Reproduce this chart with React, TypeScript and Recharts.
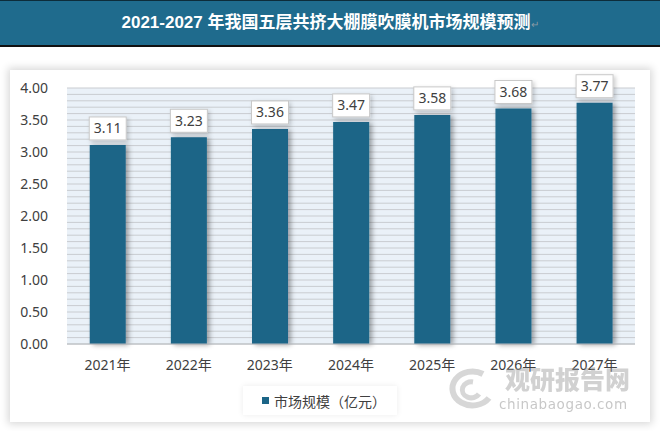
import React from 'react';
import { BarChart, Bar, XAxis, YAxis, CartesianGrid, LabelList } from 'recharts';

const years = ['2021年', '2022年', '2023年', '2024年', '2025年', '2026年', '2027年'];
const marketSize = [3.11, 3.23, 3.36, 3.47, 3.58, 3.68, 3.77];
const yTicks = [0, 0.5, 1, 1.5, 2, 2.5, 3, 3.5, 4];
const Y_MAX = 4;

const seriesName = '市场规模（亿元）';
const title = '2021-2027 年我国五层共挤大棚膜吹膜机市场规模预测';

const BAR = '#1b6587';
const TEXT = '#404040';
const FONT = '"Noto Sans", "Noto Sans CJK SC", sans-serif';

// striped background: a thin line every 0.1
const gridValues = Array.from({ length: 41 }, (_, i) => Math.round(i * 10) / 100);

const data = years.map((year, i) => ({ year, value: marketSize[i] }));

function ValueLabel(props: any) {
  const { x, y, width, value } = props;
  const w = 37;
  const h = 23;
  const cx = Number(x) + Number(width) / 2;
  const top = Number(y) - 5 - h;
  return (
    <g>
      <rect x={cx - w / 2} y={top} width={w} height={h} fill="#fff" stroke="#c8c8c8" strokeWidth={1} filter="url(#boxShadow)" />
      <text x={cx} y={top + h / 2 + 5} textAnchor="middle" fontSize={14} fill={TEXT} fontFamily={FONT}>
        {Number(value).toFixed(2)}
      </text>
    </g>
  );
}

export default function App() {
  return (
    <div style={{ position: 'absolute', left: 0, top: 0, width: 660, height: 431, background: '#fff', overflow: 'hidden', fontFamily: FONT }}>
      <div
        style={{
          position: 'absolute',
          left: 0,
          top: 0,
          width: 660,
          height: 44,
          background: '#1f6b8d',
          borderTop: '1px solid #0d2c3a',
          borderBottom: '2px solid #111',
          color: '#fff',
          fontWeight: 700,
          fontSize: 17,
          textAlign: 'center',
          lineHeight: '44px',
          fontFamily: '"Liberation Sans", "Noto Sans CJK SC", sans-serif',
        }}
      >
        {title}
        <span style={{ color: '#8a9aa5', fontSize: 10, fontWeight: 400 }}>↵</span>
      </div>

      <div
        style={{
          position: 'absolute',
          left: 10,
          top: 70,
          width: 640,
          height: 352,
          background: '#fff',
          boxShadow: '0 0 8px 2px rgba(0,0,0,0.16)',
        }}
      />

      <div style={{ position: 'absolute', left: 0, top: 0 }}>
        <BarChart width={660} height={431} data={data} margin={{ top: 88, right: 25, bottom: 57, left: 12 }} barCategoryGap="28%">
          <defs>
            <filter id="barShadow" x="-50%" y="-20%" width="200%" height="140%">
              <feDropShadow dx="3" dy="1" stdDeviation="2.5" floodColor="#000" floodOpacity="0.35" />
            </filter>
            <filter id="boxShadow" x="-50%" y="-50%" width="200%" height="200%">
              <feDropShadow dx="2" dy="2" stdDeviation="2" floodColor="#000" floodOpacity="0.2" />
            </filter>
          </defs>
          <CartesianGrid
            vertical={false}
            horizontalCoordinatesGenerator={({ offset }: any) =>
              gridValues.map((v) => offset.top + offset.height * (1 - v / Y_MAX))
            }
            stroke="#c9ccd0"
            strokeWidth={1}
            fill="#eaf1f8"
          />
          <XAxis
            dataKey="year"
            axisLine={{ stroke: '#b8bcc0' }}
            tickLine={false}
            tick={{ fill: TEXT, fontSize: 14, fontFamily: FONT }}
            tickMargin={10}
            interval={0}
          />
          <YAxis
            width={55}
            domain={[0, Y_MAX]}
            ticks={yTicks}
            axisLine={false}
            tickLine={false}
            tickMargin={19}
            tickSize={0}
            tickFormatter={(v: number) => v.toFixed(2)}
            tick={{ fill: TEXT, fontSize: 14, fontFamily: FONT }}
          />
          <Bar dataKey="value" name={seriesName} fill={BAR} filter="url(#barShadow)" isAnimationActive={false}>
            <LabelList dataKey="value" content={<ValueLabel />} />
          </Bar>
        </BarChart>
      </div>

      <div
        style={{
          position: 'absolute',
          left: 243,
          top: 386,
          width: 154,
          height: 29,
          background: '#fff',
          boxShadow: '0 0 6px rgba(0,0,0,0.08)',
          display: 'flex',
          alignItems: 'center',
          fontSize: 14,
          color: TEXT,
        }}
      >
        <span style={{ display: 'inline-block', width: 7, height: 7, background: BAR, marginLeft: 19, marginRight: 5 }} />
        {seriesName}
      </div>

      <div style={{ position: 'absolute', left: 505, top: 360, fontSize: 25, fontWeight: 900, color: '#9a9a9a', opacity: 0.45, fontFamily: '"Noto Sans CJK SC", sans-serif' }}>
        观研报告网
      </div>
      <div style={{ position: 'absolute', left: 499, top: 396, fontSize: 13.5, color: '#9a9a9a', opacity: 0.55, letterSpacing: 0.6, fontFamily: '"DejaVu Sans", sans-serif' }}>
        chinabaogao.com
      </div>
      <svg style={{ position: 'absolute', left: 443, top: 364 }} width={56} height={50}>
        <path d="M40 10 A20 17 0 1 0 46 34" fill="none" stroke="#9a9a9a" strokeWidth={6} opacity={0.4} />
        <path d="M30 18 A9 8 0 1 0 36 30" fill="none" stroke="#9a9a9a" strokeWidth={5} opacity={0.4} />
      </svg>
    </div>
  );
}
